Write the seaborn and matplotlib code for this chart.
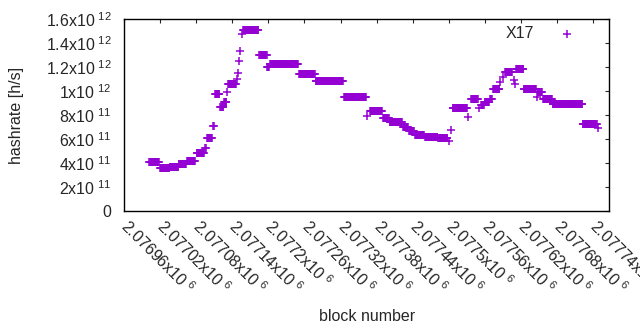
import numpy as np
import matplotlib
matplotlib.use("Agg")
import matplotlib.pyplot as plt
import seaborn as sns

# runs of blocks sharing one hashrate estimate (first block, last block, rate in 1e11 h/s)
run_first = [2077002, 2077020, 2077036, 2077051, 2077065, 2077081, 2077095, 2077098,
             2077108, 2077111, 2077120, 2077126, 2077131, 2077133, 2077148, 2077150,
             2077151, 2077153, 2077156, 2077158, 2077185, 2077198, 2077203, 2077251,
             2077279, 2077326, 2077364, 2077369, 2077391, 2077402, 2077424, 2077434,
             2077444, 2077461, 2077483, 2077500, 2077504, 2077507, 2077532, 2077537,
             2077550, 2077554, 2077560, 2077569, 2077574, 2077585, 2077590, 2077594,
             2077609, 2077610, 2077612, 2077625, 2077647, 2077648, 2077657, 2077673,
             2077723, 2077748]
run_last = [2077018, 2077035, 2077050, 2077063, 2077078, 2077093, 2077096, 2077106,
            2077109, 2077118, 2077125, 2077130, 2077131, 2077146, 2077148, 2077150,
            2077151, 2077153, 2077156, 2077183, 2077197, 2077201, 2077249, 2077277,
            2077324, 2077362, 2077364, 2077389, 2077400, 2077422, 2077432, 2077442,
            2077459, 2077481, 2077498, 2077500, 2077504, 2077530, 2077532, 2077548,
            2077550, 2077558, 2077567, 2077572, 2077584, 2077585, 2077590, 2077605,
            2077609, 2077610, 2077624, 2077645, 2077647, 2077655, 2077672, 2077722,
            2077746, 2077748]
run_rate = [4.05, 3.56, 3.66, 3.92, 4.17, 4.8, 5.25, 6.05,
            7.08, 9.72, 8.65, 9.1, 9.9, 10.56, 11.0, 11.47,
            12.5, 13.36, 14.75, 15.08, 12.97, 12.0, 12.22, 11.39,
            10.8, 9.47, 7.94, 8.33, 7.75, 7.44, 7.03, 6.7,
            6.33, 6.2, 6.1, 5.85, 6.75, 8.56, 7.86, 9.33,
            8.56, 8.8, 9.1, 9.35, 10.14, 10.78, 11.14, 11.56,
            10.92, 10.56, 11.83, 10.14, 9.47, 9.94, 9.31, 8.89,
            7.25, 6.89]

x_ticks = [2076960 + 60 * k for k in range(14)]
y_ticks = [0, 2e11, 4e11, 6e11, 8e11, 1e12, 1.2e12, 1.4e12, 1.6e12]
y_labels = ["0", "2x10^{\\ 11}", "4x10^{\\ 11}", "6x10^{\\ 11}", "8x10^{\\ 11}",
            "1x10^{\\ 12}", "1.2x10^{\\ 12}", "1.4x10^{\\ 12}", "1.6x10^{\\ 12}"]

# one point per block
blocks = np.concatenate([np.arange(a, b + 1) for a, b in zip(run_first, run_last)])
rates = np.concatenate([np.full(b - a + 1, r * 1e11) for a, b, r in zip(run_first, run_last, run_rate)])

sns.set_style("white")
plt.rcParams["font.family"] = ["Liberation Sans", "DejaVu Sans"]
plt.rcParams["mathtext.fontset"] = "custom"
plt.rcParams["mathtext.rm"] = "Liberation Sans"
plt.rcParams["mathtext.default"] = "regular"

fig = plt.figure(figsize=(6.4, 3.3), dpi=100)
ax = fig.add_axes([0.194, 0.3606, 0.7578, 0.5818])

sns.scatterplot(x=blocks, y=rates, marker="+", s=40, linewidth=1.1,
                color="#9400D3", label="X17", ax=ax)

ax.set_xlim(2076960, 2077767)
ax.set_ylim(0, 1.6e12)

ax.set_yticks(y_ticks)
ax.set_yticklabels(["$" + l + "$" if l != "0" else "0" for l in y_labels], fontsize=11.5)
ax.set_xticks(x_ticks)
ax.set_xticklabels([f"${v / 1e6:.6g}x10^{{\\ 6}}$" for v in x_ticks], fontsize=11.5,
                   rotation=-45, ha="left", va="center", rotation_mode="anchor")

ax.tick_params(direction="in", length=3, width=0.8, top=True, right=True, pad=9)
ax.tick_params(axis="x", pad=9)
for sp in ax.spines.values():
    sp.set_linewidth(1.0)
    sp.set_color("black")

ax.set_xlabel("block number", fontsize=11.5)
ax.set_ylabel("hashrate [h/s]", fontsize=11.5)
ax.xaxis.set_label_coords(0.5, -0.51)
ax.yaxis.set_label_coords(-0.206, 0.5)

ax.legend(loc="upper right", frameon=False, markerfirst=False, fontsize=11.5,
          handlelength=3, handletextpad=0.6, bbox_to_anchor=(0.993, 1.04))

fig.savefig("out.png", dpi=100)
